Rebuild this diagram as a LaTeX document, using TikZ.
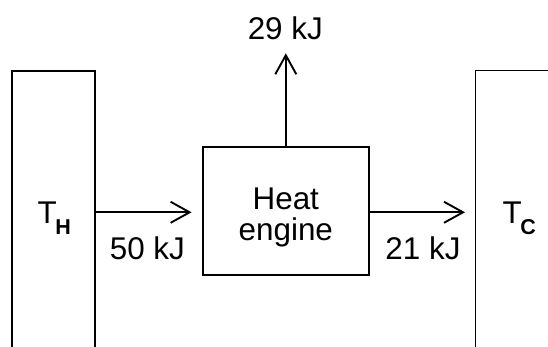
\documentclass[tikz,border=0pt]{standalone}
\usepackage{fontspec}
\setmainfont{Liberation Sans}
\usetikzlibrary{arrows.meta}
\tikzset{
  wall/.style={line width=1.9pt},
  flow/.style={line width=1.9pt, -{Straight Barb[length=19pt,width=21pt,line width=1.9pt]}},
  qty/.style={font=\fontsize{31.4}{31}\selectfont, inner sep=0pt, anchor=base}
}
\newcommand\lowsub[1]{\kern-1.5pt\raisebox{-11pt}{\fontsize{21.5}{21.5}\selectfont\bfseries #1}}

\begin{document}
\begin{tikzpicture}[x=1pt,y=1pt]
        \useasboundingbox (0,0) rectangle (548,347);
        % 点坐标
        \coordinate (H1) at (12,-2);
        \coordinate (H2) at (12,276);
        \coordinate (H3) at (95,276);
        \coordinate (H4) at (95,-2);
        \coordinate (C1) at (475.5,-2);
        \coordinate (C2) at (475.5,276.5);
        \coordinate (C3) at (552,276.5);
        \coordinate (P) at (95,134.7);
        \coordinate (Q) at (191.6,134.7);
        \coordinate (R) at (465,134.7);
        \coordinate (W) at (285.8,293.7);
        % 热机
        \node[wall, draw, minimum width=166.4pt, minimum height=127.8pt] (engine) at (285.8,136.2) {};
        \node[font=\fontsize{31.4}{31}\selectfont, align=center, inner sep=0pt]
             (name) at ([yshift=-7pt]engine.center) {Heat\\engine};
        % 高温热源, 低温热源
        \draw[wall] (H1) -- (H2) -- (H3) -- (H4);
        \draw[wall] (C1) -- (C2) -- (C3);
        \node[qty, anchor=base west] (TH) at (37.4,123.7) {T\lowsub{H}};
        \node[qty, anchor=base west] (TC) at (502.5,123.7) {T\lowsub{C}};
        % 能量流
        \draw[flow] (P) -- (Q);
        \draw[flow] (engine.east |- P) -- (R);
        \draw[flow] (engine.north) -- (W);
        \node[qty] (Qin) at (147.4,87) {50 kJ};
        \node[qty] (Qout) at (423,87) {21 kJ};
        \node[qty] (work) at (285.3,307.7) {29 kJ};
    \end{tikzpicture}
\end{document}
